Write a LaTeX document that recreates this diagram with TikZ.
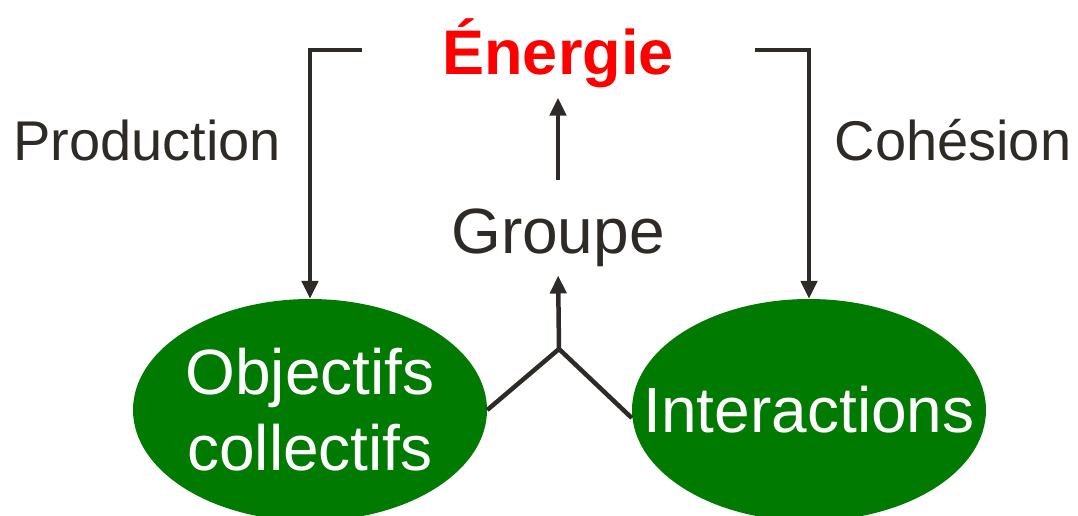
\documentclass[tikz,border=0pt]{standalone}
\usepackage{fontspec}
\setmainfont{Liberation Sans}
\usetikzlibrary{arrows.meta,shapes.geometric,calc}
\definecolor{ink}{RGB}{46,42,37}
\definecolor{leaf}{RGB}{0,122,0}
\definecolor{hot}{RGB}{255,0,0}
\tikzset{
  conn/.style={draw=ink,line width=4.5pt},
  arr/.style={conn,-{Triangle[width=16pt,length=18pt]}},
  blob/.style={ellipse,fill=leaf,minimum width=354pt,minimum height=222pt,inner sep=0pt,text=white,font=\fontsize{64}{76}\selectfont},
  lbl/.style={inner sep=0pt,text=ink,anchor=base}
}
\begin{document}
\begin{tikzpicture}[x=1pt,y=-1pt]
\useasboundingbox (0,0) rectangle (1078,516);
\node[lbl,text=hot,font=\fontsize{63}{63}\selectfont\bfseries] (energie) at (558,75) {Énergie};
\node[lbl,font=\fontsize{64}{64}\selectfont] (groupe) at (558,253) {Groupe};
\node[lbl,font=\fontsize{56}{56}\selectfont] (prod) at (147,160) {Production};
\node[lbl,font=\fontsize{56}{56}\selectfont] (cohe) at (953,160) {Cohésion};
\node[blob] (obj) at (310,410) {\makebox[0pt]{\parbox{0pt}{\centering\makebox[0pt]{Objectifs}\\\makebox[0pt]{collectifs}}}};
\node[blob] (int) at (809,410) {\makebox[0pt]{\raisebox{-6pt}{Interactions}}};
\coordinate (lb) at (362,50);
\coordinate (rb) at (755,50);
\coordinate (j) at (559,349);
\draw[arr] (lb) -| (obj.north);
\draw[arr] (rb) -| (int.north);
\draw[arr,shorten <=28pt,shorten >=9pt] (groupe.north) -- (energie.south);
\draw[conn] (obj.east) -- (j) -- ([yshift=-8pt]int.west);
\draw[arr,shorten >=9pt] (j) -- (groupe.south);
\end{tikzpicture}
\end{document}
